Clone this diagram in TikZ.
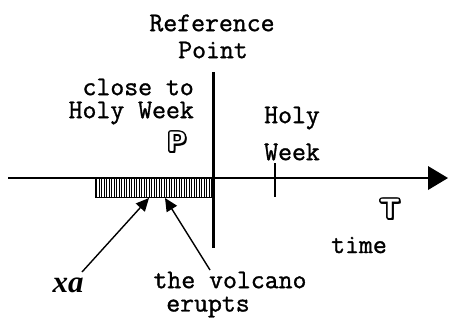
\documentclass[tikz,border=0pt]{standalone}
\usepackage{fontspec}
\usepackage{contour}
\usetikzlibrary{arrows.meta,calc}
\newfontfamily\boldital{Liberation Serif}
\newfontfamily\mono{Latin Modern Mono}[FakeBold=1.2]
\newcommand{\outl}[1]{\makebox[0pt][l]{\hspace{1.8pt}\raisebox{-1.8pt}{#1}}\contour{black}{\textcolor{white}{#1}}}
\tikzset{
  lbl/.style={font=\fontsize{27}{28}\selectfont\mono, inner sep=0pt},
  ptr/.style={line width=1.4pt, -{Triangle[length=13pt,width=12pt]}},
  big/.style={font=\fontsize{28}{28}\selectfont\sffamily\bfseries, inner sep=0pt},
  hatch/.style={line width=0.9pt}
}
\contourlength{1.5pt}
\begin{document}
\begin{tikzpicture}[x=1pt,y=-1pt]
\useasboundingbox (0,0) rectangle (457,333);
% hatched interval
\node[draw=black, line width=0.6pt, minimum width=118pt, minimum height=19pt, inner sep=0pt, anchor=north west] (bar) at (95,178) {};
\foreach \i in {0,...,46} {
  \draw[hatch] ($(bar.north west)+(1.5+2.5*\i,0)$) -- ($(bar.south west)+(1.5+2.5*\i,0)$);
}
% axis
\coordinate (a0) at (8,178);
\coordinate (a1) at (430,178);
\draw[line width=2pt] (a0) -- (a1);
\fill (428,166) -- (448,178) -- (428,190) -- cycle;
% reference line
\coordinate (r0) at (213,72);
\coordinate (r1) at (213,248);
\draw[line width=3pt] (r0) -- (r1);
% tick
\coordinate (t0) at (275,163);
\coordinate (t1) at (275,197);
\draw[line width=1.4pt] (t0) -- (t1);
% labels
\node[lbl] (ref) at (212,23) {Reference};
\node[lbl] (pt) at (213,50) {Point};
\node[lbl, anchor=east] (close) at (194,87) {close to};
\node[lbl, anchor=east] (hw) at (194,113) {Holy Week};
\node[lbl, anchor=west] (holy) at (264,118) {Holy};
\node[lbl, anchor=west] (week) at (264,152) {Week};
\node[lbl] (time) at (359,245) {time};
\node[lbl] (volc) at (230,280) {the volcano};
\node[lbl] (erupts) at (208,307) {erupts};
\node[font=\fontsize{31}{31}\selectfont\boldital\bfseries\itshape, inner sep=0pt] (xa) at (68,285) {xa};
% outlined letters
\node[big] (P) at (177,143) {\outl{P}};
\node[big] (T) at (390,210) {\outl{T}};
% pointers
\coordinate (xs) at (82,272);
\coordinate (xe) at (149,198);
\coordinate (vs) at (210,270);
\coordinate (ve) at (165,198);
\draw[ptr] (xs) -- (xe);
\draw[ptr] (vs) -- (ve);
\end{tikzpicture}
\end{document}
